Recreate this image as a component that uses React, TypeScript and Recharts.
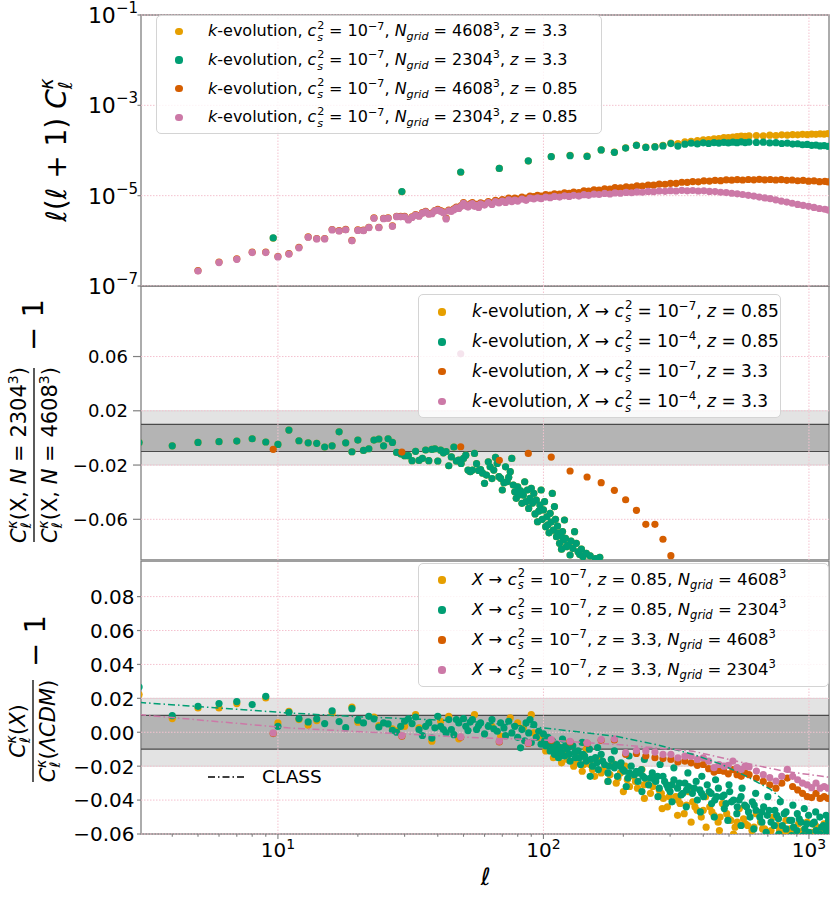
import React from 'react';
import { ComposedChart, Scatter, Line, XAxis, YAxis, ReferenceArea, ReferenceLine, Legend } from 'recharts';

const ORANGE = '#E69F00';
const GREEN = '#009E73';
const VERM = '#D55E00';
const PINK = '#CC79A7';
const SPINE = '#808080';
const GRID = '#f4c2cf';
const FONT = '"DejaVu Sans", Verdana, sans-serif';

const X_DOMAIN: [number, number] = [3.05, 1190];
const xTicks = [4, 5, 6, 7, 8, 9, 10, 20, 30, 40, 50, 60, 70, 80, 90, 100, 200, 300, 400, 500, 600, 700, 800, 900, 1000];
const xMajor = [10, 100, 1000];
const topYTicks = [1e-7, 1e-5, 1e-3, 1e-1];
const midYTicks = [-0.06, -0.02, 0.02, 0.06];
const botYTicks = [-0.06, -0.04, -0.02, 0, 0.02, 0.04, 0.06, 0.08];

// multipole grid of the z = 3.3 maps (coarse bins)
const binEll = [9.6, 29.3, 48.8, 68.2, 87.7, 107, 126, 146, 165, 185, 204, 224, 243, 263, 282, 302, 321, 341, 360, 380, 400,
  419, 439, 458, 478, 497, 517, 536, 556, 575, 595,
  634, 673, 712, 751, 790, 829, 868, 907, 946, 985, 1024, 1063, 1102, 1141, 1180];

// multipoles of the z = 0.85 spectra (top panel)
const topEll = [5, 6, 7, 8, 9, 10, 11, 12, 13, 14, 15, 16, 17, 18, 19, 20, 21, 22, 23, 24, 25, 26, 27, 28, 29, 30,
  31, 32, 33, 34, 35, 36, 37, 38, 39, 40, 41, 42, 43, 44, 45, 46, 47, 48, 49, 50, 51, 52, 53, 54, 55, 56, 57, 58,
  60, 62, 64, 66, 68, 70, 72, 74, 76, 78, 80,
  83, 86, 89, 92, 95, 98,
  102, 106, 110, 115, 120, 125, 130, 136, 142, 148,
  155, 162, 170, 178, 186, 195,
  205, 215, 225, 236, 248, 260, 273, 287,
  301, 316, 332, 348, 365, 383,
  402, 422, 443, 465, 488, 512, 537, 563, 591,
  620, 650, 682, 715, 750, 787, 825, 865, 907, 951, 997,
  1045, 1095, 1148, 1180];

// top panel: l(l+1) C_l^kappa
const topOrange33 = [1.15e-6, 1.22e-5, 3.3e-5, 4.0e-5, 5.85e-5, 7.3e-5, 7.8e-5, 7.5e-5, 1.03e-4, 9.2e-5, 1.14e-4, 1.31e-4, 1.19e-4, 1.22e-4, 1.3e-4, 1.45e-4, 1.42e-4, 1.55e-4, 1.6e-4, 1.66e-4, 1.72e-4,
  1.74e-4, 1.8e-4, 1.83e-4, 1.92e-4, 1.94e-4, 1.98e-4, 2.02e-4, 2.08e-4, 2.07e-4, 2.1e-4,
  2.14e-4, 2.12e-4, 2.18e-4, 2.15e-4, 2.22e-4, 2.19e-4, 2.25e-4, 2.22e-4, 2.28e-4, 2.25e-4, 2.31e-4, 2.28e-4, 2.34e-4, 2.31e-4, 2.36e-4];
const topGreen33 = [1.16e-6, 1.23e-5, 3.34e-5, 4.0e-5, 5.9e-5, 7.3e-5, 7.7e-5, 7.4e-5, 1.03e-4, 9.1e-5, 1.13e-4, 1.3e-4, 1.17e-4, 1.2e-4, 1.26e-4, 1.42e-4, 1.25e-4, 1.38e-4, 1.45e-4, 1.4e-4, 1.48e-4,
  1.43e-4, 1.5e-4, 1.46e-4, 1.52e-4, 1.47e-4, 1.53e-4, 1.49e-4, 1.55e-4, 1.5e-4, 1.54e-4,
  1.51e-4, 1.53e-4, 1.47e-4, 1.49e-4, 1.43e-4, 1.45e-4, 1.39e-4, 1.41e-4, 1.34e-4, 1.36e-4, 1.3e-4, 1.32e-4, 1.26e-4, 1.28e-4, 1.24e-4];
const topVerm085 = [2.2e-7, 3.4e-7, 4.0e-7, 5.6e-7, 5.6e-7, 4.5e-7, 5.2e-7, 7.2e-7, 1.22e-6, 1.12e-6, 1.12e-6, 1.78e-6, 1.68e-6, 1.79e-6, 1.02e-6, 1.74e-6, 1.72e-6, 2.0e-6, 3.22e-6, 2.0e-6, 3.16e-6, 3.22e-6, 2.15e-6, 3.5e-6, 3.47e-6, 3.47e-6,
  3.0e-6, 3.4e-6, 3.8e-6, 3.6e-6, 4.2e-6, 4.5e-6, 4.0e-6, 4.1e-6, 4.7e-6, 5.0e-6, 4.7e-6, 4.4e-6, 3.2e-6, 4.8e-6, 4.7e-6, 5.1e-6, 5.6e-6, 5.4e-6, 6.0e-6, 7.0e-6, 6.2e-6, 5.9e-6, 6.6e-6, 7.0e-6, 6.1e-6, 6.4e-6, 5.8e-6, 6.9e-6,
  6.6e-6, 7.4e-6, 6.9e-6, 7.9e-6, 7.4e-6, 8.2e-6, 7.7e-6, 8.8e-6, 8.1e-6, 8.8e-6, 8.4e-6,
  9.3e-6, 8.8e-6, 9.8e-6, 9.5e-6, 1.01e-5, 9.8e-6,
  1.06e-5, 1.03e-5, 1.1e-5, 1.08e-5, 1.15e-5, 1.13e-5, 1.2e-5, 1.17e-5, 1.28e-5, 1.26e-5,
  1.35e-5, 1.33e-5, 1.42e-5, 1.4e-5, 1.5e-5, 1.49e-5,
  1.56e-5, 1.55e-5, 1.64e-5, 1.63e-5, 1.72e-5, 1.71e-5, 1.8e-5, 1.79e-5,
  1.88e-5, 1.88e-5, 1.98e-5, 1.97e-5, 2.05e-5, 2.03e-5,
  2.12e-5, 2.1e-5, 2.18e-5, 2.15e-5, 2.23e-5, 2.2e-5, 2.26e-5, 2.22e-5, 2.28e-5,
  2.24e-5, 2.29e-5, 2.24e-5, 2.28e-5, 2.22e-5, 2.26e-5, 2.19e-5, 2.22e-5, 2.14e-5, 2.17e-5, 2.09e-5,
  2.12e-5, 2.04e-5, 2.07e-5, 2.02e-5];
const topPink085 = [2.15e-7, 3.3e-7, 3.9e-7, 5.5e-7, 5.5e-7, 4.4e-7, 5.1e-7, 7.0e-7, 1.2e-6, 1.1e-6, 1.1e-6, 1.74e-6, 1.65e-6, 1.75e-6, 1.0e-6, 1.7e-6, 1.68e-6, 1.96e-6, 3.16e-6, 1.96e-6, 3.1e-6, 3.16e-6, 2.1e-6, 3.43e-6, 3.4e-6, 3.4e-6,
  2.9e-6, 3.3e-6, 3.7e-6, 3.5e-6, 4.1e-6, 4.4e-6, 3.9e-6, 4.0e-6, 4.6e-6, 4.8e-6, 4.5e-6, 4.2e-6, 3.05e-6, 4.6e-6, 4.5e-6, 4.9e-6, 5.4e-6, 5.2e-6, 5.8e-6, 6.8e-6, 6.0e-6, 5.6e-6, 6.3e-6, 6.7e-6, 5.8e-6, 6.1e-6, 5.5e-6, 6.6e-6,
  6.2e-6, 7.0e-6, 6.4e-6, 7.4e-6, 6.9e-6, 7.6e-6, 7.1e-6, 8.1e-6, 7.4e-6, 8.0e-6, 7.6e-6,
  8.4e-6, 7.9e-6, 8.8e-6, 8.5e-6, 9.0e-6, 8.6e-6,
  9.3e-6, 9.0e-6, 9.6e-6, 9.3e-6, 9.9e-6, 9.6e-6, 1.02e-5, 9.8e-6, 1.05e-5, 1.02e-5,
  1.08e-5, 1.06e-5, 1.12e-5, 1.09e-5, 1.15e-5, 1.13e-5,
  1.18e-5, 1.16e-5, 1.21e-5, 1.19e-5, 1.24e-5, 1.22e-5, 1.27e-5, 1.25e-5,
  1.29e-5, 1.27e-5, 1.31e-5, 1.28e-5, 1.3e-5, 1.27e-5,
  1.28e-5, 1.24e-5, 1.23e-5, 1.19e-5, 1.17e-5, 1.13e-5, 1.1e-5, 1.06e-5, 1.02e-5,
  9.8e-6, 9.3e-6, 8.9e-6, 8.6e-6, 8.1e-6, 7.6e-6, 7.2e-6, 6.8e-6, 6.4e-6, 6.1e-6, 5.8e-6,
  5.5e-6, 5.2e-6, 5.0e-6, 4.8e-6];

// middle panel: resolution ratio - 1
const midGreen085: number[][] = [
  [3, -0.0033], [4, -0.0058], [5, -0.0033], [6, -0.0028], [7, -0.0023], [8, -0.0006], [9, -0.003], [10, -0.0048], [11, 0.0058], [12, -0.0021],
  [13, -0.0036], [14, -0.004], [15, -0.0067], [16, -0.0058], [17, 0.0045], [18, -0.0036], [19, -0.0102], [20, -0.0016], [21, -0.0092], [22, -0.008],
  [23, -0.0016], [24, -0.0008], [25, -0.0058], [26, -0.0006], [27, -0.0033], [28, -0.0107], [29, -0.0117], [30, -0.0131], [31, -0.0131], [32, -0.0168],
  [33, -0.0099], [34, -0.0166], [35, -0.0151], [36, -0.0089], [37, -0.0168], [38, -0.0085], [39, -0.008], [40, -0.017], [41, -0.009], [42, -0.011],
  [43, -0.01], [44, -0.0205], [45, -0.014], [46, -0.0067], [47, -0.017], [48, -0.0163], [49, -0.0188], [50, -0.0151], [51, -0.0127], [52, -0.0237],
  [53, -0.0249], [54, -0.0237], [55, -0.0114], [56, -0.019], [57, -0.024], [58, -0.0233], [59, -0.026], [60, -0.0335], [61, -0.0274], [62, -0.0176],
  [63, -0.0213], [64, -0.03], [65, -0.0237], [66, -0.0144], [67, -0.0188], [68, -0.0286], [69, -0.0298], [70, -0.0384], [71, -0.033], [72, -0.0213],
  [73, -0.0323], [74, -0.029], [75, -0.0249], [76, -0.0151], [77, -0.0347], [78, -0.0397], [79, -0.0445], [80, -0.036], [81, -0.042], [82, -0.039],
  [83, -0.0482], [84, -0.0421], [85, -0.0323], [86, -0.047], [87, -0.0384], [88, -0.052], [89, -0.0445], [90, -0.0372], [91, -0.048], [92, -0.0409],
  [93, -0.056], [94, -0.0458], [95, -0.0618], [96, -0.054], [97, -0.0495], [98, -0.0384], [99, -0.06], [100, -0.0531], [101, -0.047], [102, -0.0654],
  [103, -0.0581], [104, -0.064], [105, -0.07], [106, -0.0556], [107, -0.062], [108, -0.0409], [109, -0.068], [110, -0.0507], [111, -0.06], [112, -0.0728],
  [113, -0.065], [114, -0.0703], [115, -0.0777], [116, -0.072], [117, -0.082], [118, -0.069], [119, -0.0752], [120, -0.0605], [121, -0.074], [122, -0.0802],
  [124, -0.079], [126, -0.0863], [127, -0.076], [129, -0.0814], [131, -0.0691], [133, -0.0777], [135, -0.0839], [137, -0.086], [139, -0.082], [141, -0.0876],
  [145, -0.0851], [150, -0.087], [157, -0.089], [163, -0.088]];
// c_s^2 = 1e-7 at z = 0.85 lies on top of the 1e-4 points
const midOrange085 = midGreen085;
const midVerm33 = [-0.0084, -0.0104, -0.0065, -0.0165, -0.0114, -0.0141, -0.0244, -0.0288, -0.033, -0.0386, -0.0456, -0.0534, -0.0637, -0.0637, -0.0747, -0.0868];
const midPink33: number[][] = [[48.8, 0.062]];

// bottom panel: ratio to LCDM - 1
const botOrange085: number[][] = [
  [3, 0.0222], [4, 0.0081], [5, 0.0143], [6, 0.0143], [7, 0.0169], [9, 0.0202], [10, 0.0055], [11, 0.0124], [12, 0.0075], [13, 0.0041],
  [14, 0.0069], [16, 0.0114], [19, 0.0149], [20, 0.0059], [23, 0.009], [24, 0.004], [27, 0.002], [28, 0.0008], [30, 0.0035], [33, 0.0104],
  [34, 0.0026], [38, -0.0053], [41, 0.0065], [44, 0.0094], [48, -0.0039], [55, 0.0104], [64, 0.0035], [69, -0.0023], [75, 0.0085], [80, 0.0055],
  [84, 0.0025], [90, 0.0104], [92, -0.0004], [97, -0.0033], [102, -0.011], [105, -0.004], [109, -0.015], [113, -0.008], [117, -0.018], [121, -0.012],
  [125, -0.006], [130, -0.02], [135, -0.014], [140, -0.023], [145, -0.01], [150, -0.019], [156, -0.026], [162, -0.016], [168, -0.022], [175, -0.029],
  [182, -0.018], [188, -0.03], [195, -0.024], [203, -0.02], [211, -0.032], [219, -0.026], [226, -0.033], [235, -0.022], [244, -0.03], [253, -0.036],
  [263, -0.027], [273, -0.034], [283, -0.039], [293, -0.044], [304, -0.031], [315, -0.038], [327, -0.042], [339, -0.048], [352, -0.035], [365, -0.041],
  [379, -0.046], [393, -0.05], [408, -0.038], [423, -0.044], [439, -0.049], [455, -0.053], [472, -0.042], [490, -0.048], [508, -0.052], [527, -0.056],
  [547, -0.045], [567, -0.051], [588, -0.055], [610, -0.058], [633, -0.048], [657, -0.053], [681, -0.057], [707, -0.06], [733, -0.05], [761, -0.055],
  [789, -0.059], [819, -0.052], [849, -0.057], [881, -0.06], [914, -0.054], [948, -0.058], [984, -0.053], [1021, -0.059], [1059, -0.055], [1099, -0.059],
  [1140, -0.054], [1183, -0.058],
  [107, -0.009], [115, -0.013], [123, -0.016], [132, -0.017], [142, -0.019], [153, -0.022], [165, -0.024], [178, -0.025], [191, -0.027], [207, -0.028],
  [222, -0.029], [239, -0.031], [258, -0.032], [278, -0.036], [298, -0.038], [321, -0.04], [346, -0.043], [372, -0.044], [400, -0.046], [431, -0.047],
  [463, -0.05], [499, -0.051], [537, -0.053], [577, -0.054], [621, -0.056], [669, -0.057], [720, -0.058], [775, -0.058], [834, -0.059], [897, -0.059],
  [200, -0.035], [240, -0.039], [280, -0.045], [320, -0.049], [360, -0.053], [410, -0.056], [460, -0.058], [520, -0.06]];
const botGreen085: number[][] = [
  [3, 0.0267], [4, 0.0098], [5, 0.0153], [6, 0.0169], [7, 0.0181], [8, 0.0163], [9, 0.0212], [10, 0.0035], [11, 0.0118], [12, 0.0081],
  [13, 0.0061], [14, 0.0079], [15, 0.0051], [16, 0.0127], [17, 0.0063], [18, 0.0027], [19, 0.0139], [20, 0.0071], [21, 0.0055], [22, 0.0094],
  [23, 0.0079], [24, 0.0031], [25, 0.0055], [26, 0.0049], [27, 0.0012], [28, 0.0], [29, 0.0035], [30, 0.0065], [31, 0.0079], [32, 0.0051],
  [33, 0.009], [34, 0.0016], [35, -0.0019], [36, 0.0035], [37, 0.0055], [38, -0.0034], [39, 0.0026], [40, 0.0094], [41, 0.0035], [42, 0.0016],
  [43, -0.0004], [44, 0.0075], [45, 0.0016], [46, -0.0014], [47, 0.0075], [48, 0.0055], [50, 0.008], [51, 0.0035], [52, 0.001], [53, 0.006],
  [54, 0.0075], [56, 0.0017], [57, 0.004], [58, 0.0055], [60, -0.001], [62, 0.0035], [64, 0.0075], [65, 0.002], [67, 0.0006], [69, 0.0055],
  [71, 0.0025], [72, -0.002], [74, 0.0065], [76, -0.0004], [78, 0.0035], [80, -0.003], [82, -0.0092], [83, 0.0016], [85, -0.005], [86, 0.0055],
  [88, -0.0004], [89, 0.0075], [90, -0.006], [92, 0.0045], [94, -0.003], [96, 0.0006], [98, -0.007], [100, -0.001], [102, -0.008], [104, -0.003],
  [106, -0.011], [108, -0.005], [110, -0.013], [112, -0.007], [114, -0.015], [116, -0.009], [118, -0.004], [120, -0.014], [123, -0.01], [126, -0.017],
  [129, -0.008], [132, -0.015], [135, -0.011], [138, -0.019], [141, -0.013], [145, -0.017], [149, -0.01], [153, -0.02], [157, -0.015], [161, -0.022],
  [165, -0.013], [170, -0.019], [175, -0.024], [180, -0.016], [185, -0.021], [190, -0.026], [196, -0.018], [202, -0.023], [208, -0.027], [214, -0.02],
  [220, -0.025], [227, -0.029], [234, -0.022], [241, -0.027], [249, -0.031], [257, -0.024], [265, -0.029], [273, -0.033], [282, -0.026], [291, -0.031],
  [300, -0.035], [310, -0.028], [320, -0.033], [330, -0.037], [341, -0.03], [352, -0.032], [364, -0.036], [376, -0.029], [388, -0.034], [401, -0.038],
  [414, -0.031], [428, -0.036], [442, -0.04], [456, -0.033], [471, -0.038], [487, -0.042], [503, -0.035], [520, -0.04], [537, -0.044], [555, -0.038],
  [573, -0.043], [592, -0.047], [612, -0.041], [632, -0.046], [653, -0.05], [675, -0.044], [697, -0.049], [720, -0.053], [744, -0.046], [768, -0.051],
  [794, -0.055], [820, -0.047], [847, -0.052], [875, -0.056], [904, -0.048], [934, -0.053], [965, -0.057], [997, -0.049], [1030, -0.054], [1064, -0.058],
  [1099, -0.05], [1135, -0.055], [1172, -0.059], [1185, -0.052],
  [101, -0.005], [105, -0.007], [109, -0.009], [113, -0.011], [117, -0.012], [121, -0.008], [125, -0.013], [131, -0.012], [137, -0.015], [143, -0.014],
  [151, -0.016], [159, -0.018], [167, -0.017], [177, -0.02], [187, -0.019], [199, -0.022], [211, -0.024], [224, -0.023], [237, -0.026], [253, -0.027],
  [269, -0.026], [286, -0.029], [305, -0.031], [325, -0.03], [346, -0.034], [370, -0.033], [394, -0.036], [421, -0.035], [449, -0.038], [479, -0.037],
  [511, -0.041], [546, -0.04], [582, -0.044], [622, -0.043], [664, -0.047], [708, -0.046], [756, -0.049], [807, -0.048], [861, -0.052], [919, -0.051],
  [981, -0.054], [1047, -0.053], [1117, -0.056], [1180, -0.055],
  [140, -0.006], [160, -0.009], [185, -0.011], [210, -0.014], [240, -0.016], [275, -0.019], [310, -0.021], [350, -0.024], [395, -0.026], [445, -0.028],
  [500, -0.031], [560, -0.033], [630, -0.036], [700, -0.038], [780, -0.041], [870, -0.043], [960, -0.045], [1060, -0.047], [1160, -0.049],
  [150, -0.026], [175, -0.029], [205, -0.032], [235, -0.035], [270, -0.038], [305, -0.041], [345, -0.044], [390, -0.047], [440, -0.05], [495, -0.052],
  [555, -0.055], [620, -0.057], [690, -0.059], [770, -0.06], [860, -0.061], [950, -0.061], [1050, -0.062],
  [195, -0.02], [230, -0.024], [262, -0.028], [295, -0.033], [335, -0.036], [380, -0.04], [430, -0.042], [480, -0.045], [535, -0.048], [600, -0.05],
  [665, -0.053], [740, -0.055], [820, -0.057], [900, -0.058], [1000, -0.059], [1100, -0.06], [1160, -0.058]];
const botVerm33 = [-0.0008, -0.0023, -0.003, -0.0057, -0.0066, -0.0047, -0.0057, -0.0066, -0.0047, -0.0045, -0.013, -0.0125, -0.014, -0.015, -0.0155, -0.016, -0.0175, -0.017, -0.018, -0.0195, -0.019,
  -0.0215, -0.0235, -0.0225, -0.023, -0.0245, -0.022, -0.025, -0.026, -0.024, -0.025,
  -0.027, -0.029, -0.031, -0.033, -0.03, -0.027, -0.032, -0.034, -0.036, -0.038, -0.0385, -0.036, -0.039, -0.038, -0.039];
const botPink33 = [-0.0004, -0.0019, -0.0027, -0.0053, -0.0063, -0.0043, -0.0053, -0.0063, -0.0043, -0.0039, -0.012, -0.0108, -0.011, -0.0117, -0.0131, -0.0131, -0.0151, -0.0141, -0.0141, -0.016, -0.0151,
  -0.017, -0.0209, -0.019, -0.02, -0.0195, -0.017, -0.0209, -0.0219, -0.02, -0.0205,
  -0.0229, -0.025, -0.0268, -0.0288, -0.026, -0.0219, -0.026, -0.028, -0.03, -0.031, -0.0327, -0.03, -0.033, -0.032, -0.033];
const classGreen: number[][] = [[3, 0.0176], [5, 0.0152], [10.9, 0.0114], [20, 0.0092], [52, 0.0065], [100, 0.0026], [188, -0.0024], [270, -0.0075],
  [367, -0.0131], [470, -0.019], [580, -0.0259], [717, -0.0337], [800, -0.04]];
const classPink: number[][] = [[3, 0.0104], [10.9, 0.0026], [52, -0.003], [100, -0.0045], [200, -0.0075], [366, -0.0112], [535, -0.0171],
  [700, -0.021], [810, -0.023], [1190, -0.0265]];

// legend labels
const topLegendRows = [
  { color: ORANGE, n: '4608', z: '3.3' },
  { color: GREEN, n: '2304', z: '3.3' },
  { color: VERM, n: '4608', z: '0.85' },
  { color: PINK, n: '2304', z: '0.85' },
];
const midLegendRows = [
  { color: ORANGE, cs: '7', z: '0.85' },
  { color: GREEN, cs: '4', z: '0.85' },
  { color: VERM, cs: '7', z: '3.3' },
  { color: PINK, cs: '4', z: '3.3' },
];
const botLegendRows = [
  { color: ORANGE, z: '0.85', n: '4608' },
  { color: GREEN, z: '0.85', n: '2304' },
  { color: VERM, z: '3.3', n: '4608' },
  { color: PINK, z: '3.3', n: '2304' },
];

const zip = (ell: number[], vals: number[]) => vals.map((v, i) => ({ ell: ell[i], v }));
const pairs = (p: number[][]) => p.map(([ell, v]) => ({ ell, v }));

const Dot = (p: any) => <circle cx={p.cx} cy={p.cy} r={3.6} fill={p.fill} />;

const LogYTick = (p: any) => {
  const exp = Math.round(Math.log10(p.payload.value));
  return (
    <g>
      <line x1={p.x - 3.5} x2={p.x} y1={p.y} y2={p.y} stroke={SPINE} strokeWidth={1.2} />
      <text x={p.x - 3} y={p.y + 8} textAnchor="end" fontSize={22} fill="#000">
        10<tspan fontSize={15} dy={-10}>{'\u2212' + Math.abs(exp)}</tspan>
      </text>
    </g>
  );
};

const fmt = (v: number) => (v < 0 ? '\u2212' : '') + Math.abs(v).toFixed(2);
const makeLinTick = (fontSize: number, len: number, gap: number) => (p: any) => (
  <g>
    <line x1={p.x - len} x2={p.x} y1={p.y} y2={p.y} stroke={SPINE} strokeWidth={1.2} />
    <text x={p.x - len - gap} y={p.y + fontSize * 0.37} textAnchor="end" fontSize={fontSize} fill="#000">
      {fmt(p.payload.value)}
    </text>
  </g>
);
const MidTick = makeLinTick(18, 8, 5);
const BotTick = makeLinTick(20, 4, 2.5);

const XTick = (p: any) => {
  const v = p.payload.value;
  const major = xMajor.includes(v);
  return (
    <g>
      <line x1={p.x} x2={p.x} y1={p.y} y2={p.y + (major ? 5 : 2.8)} stroke={SPINE} strokeWidth={1.1} />
      {major && (
        <text x={p.x} y={p.y + 23} textAnchor="middle" fontSize={20} fill="#000">
          10<tspan fontSize={14} dy={-8}>{Math.round(Math.log10(v))}</tspan>
        </text>
      )}
    </g>
  );
};

const Ckappa = ({ size }: { size: number }) => (
  <>
    <tspan fontStyle="italic">C</tspan>
    <tspan fontSize={size * 0.68} dy={size * 0.25} fontStyle="italic">{'\u2113'}</tspan>
    <tspan fontSize={size * 0.68} dx={-size * 0.3} dy={-size * 0.68} fontStyle="italic">{'\u03BA'}</tspan>
    <tspan dy={size * 0.43}>(</tspan>
  </>
);

const TopYLabel = () => (
  <g transform="translate(66,150) rotate(-90)">
    <text x={0} y={0} textAnchor="middle" fontSize={28} fill="#000">
      <tspan fontStyle="italic">{'\u2113'}</tspan>
      <tspan>(</tspan>
      <tspan fontStyle="italic">{'\u2113'}</tspan>
      <tspan>{' + 1) '}</tspan>
      <tspan fontStyle="italic">C</tspan>
      <tspan fontSize={19} dy={6} fontStyle="italic">{'\u2113'}</tspan>
      <tspan fontSize={19} dx={-8} dy={-19} fontStyle="italic">{'\u03BA'}</tspan>
    </text>
  </g>
);

const MidYLabel = () => (
  <g transform="translate(34,169) rotate(-90)">
    <text x={0} y={-8} textAnchor="middle" fontSize={21} fill="#000">
      <Ckappa size={21} />
      <tspan>X, </tspan>
      <tspan fontStyle="italic">N</tspan>
      <tspan>{' = 2304'}</tspan>
      <tspan fontSize={14} dy={-8}>3</tspan>
      <tspan dy={8}>)</tspan>
    </text>
    <line x1={-87} x2={87} y1={0} y2={0} stroke="#000" strokeWidth={1.3} />
    <text x={0} y={23} textAnchor="middle" fontSize={21} fill="#000">
      <Ckappa size={21} />
      <tspan>X, </tspan>
      <tspan fontStyle="italic">N</tspan>
      <tspan>{' = 4608'}</tspan>
      <tspan fontSize={14} dy={-8}>3</tspan>
      <tspan dy={8}>)</tspan>
    </text>
    <text x={130} y={9} textAnchor="middle" fontSize={29} fill="#000">{'\u2212 1'}</text>
  </g>
);

const BotYLabel = () => (
  <g transform="translate(33,171) rotate(-90)">
    <text x={0} y={-8} textAnchor="middle" fontSize={21} fill="#000">
      <Ckappa size={21} />
      <tspan fontStyle="italic">X</tspan>
      <tspan>)</tspan>
    </text>
    <line x1={-51} x2={51} y1={0} y2={0} stroke="#000" strokeWidth={1.3} />
    <text x={0} y={22} textAnchor="middle" fontSize={21} fill="#000">
      <Ckappa size={21} />
      <tspan fontStyle="italic">{'\u039BCDM'}</tspan>
      <tspan>)</tspan>
    </text>
    <text x={90} y={12} textAnchor="middle" fontSize={29} fill="#000">{'\u2212 1'}</text>
  </g>
);

const XLabel = () => (
  <text x={485.6} y={325} textAnchor="middle" fontSize={24} fontStyle="italic" fill="#000">{'\u2113'}</text>
);

// html math helpers for the legends
const Sup = ({ children, fs }: { children: React.ReactNode; fs: number }) => (
  <span style={{ fontSize: fs * 0.7, position: 'relative', top: -fs * 0.42 }}>{children}</span>
);
const Sub = ({ children, fs }: { children: React.ReactNode; fs: number }) => (
  <span style={{ fontSize: fs * 0.7, position: 'relative', top: fs * 0.25, fontStyle: 'italic' }}>{children}</span>
);
const Cs2 = ({ fs }: { fs: number }) => (
  <>
    <i>c</i>
    <span style={{ position: 'relative', display: 'inline-block', width: fs * 0.48, height: 0 }}>
      <span style={{ position: 'absolute', left: 1, bottom: fs * 0.33, fontSize: fs * 0.7, lineHeight: 1 }}>2</span>
      <span style={{ position: 'absolute', left: 1, top: -fs * 0.27, fontSize: fs * 0.7, lineHeight: 1, fontStyle: 'italic' }}>s</span>
    </span>
  </>
);

const LegendBox = ({ left, top, width, height, rows, dotX, textX, fs }: any) => (
  <div style={{
    position: 'absolute', left, top, width, height, boxSizing: 'border-box',
    border: '1px solid #d4d4d4', borderRadius: 5, background: 'rgba(255,255,255,0.8)', fontFamily: FONT, color: '#000',
  }}>
    {rows.map((r: any, i: number) => (
      <div key={i} style={{ position: 'absolute', left: 0, top: r.y, width: '100%', height: 0 }}>
        <span style={{ position: 'absolute', left: dotX - 3.6, top: -3.6, width: 7.2, height: 7.2, borderRadius: '50%', background: r.color }} />
        <span style={{ position: 'absolute', left: textX, top: -fs * 0.62, whiteSpace: 'nowrap', fontSize: fs, lineHeight: `${fs * 1.2}px` }}>
          {r.label}
        </span>
      </div>
    ))}
  </div>
);

const TopLegend = () => {
  const fs = 16;
  const ys = [15.3, 44, 72.7, 101.4];
  const rows = topLegendRows.map((r, i) => ({
    color: r.color,
    y: ys[i],
    label: (
      <>
        <i>k</i>-evolution, <Cs2 fs={fs} /> = 10<Sup fs={fs}>{'\u22127'}</Sup>, <i>N</i><Sub fs={fs}>grid</Sub> = {r.n}<Sup fs={fs}>3</Sup>, <i>z</i> = {r.z}
      </>
    ),
  }));
  return <LegendBox left={156} top={15} width={446} height={119} rows={rows} dotX={22} textX={51} fs={fs} />;
};

const MidLegend = () => {
  const fs = 17;
  const ys = [17, 47, 76.7, 106.7];
  const rows = midLegendRows.map((r, i) => ({
    color: r.color,
    y: ys[i],
    label: (
      <>
        <i>k</i>-evolution, <i>X</i> {'\u2192'} <Cs2 fs={fs} /> = 10<Sup fs={fs}>{'\u2212' + r.cs}</Sup>, <i>z</i> = {r.z}
      </>
    ),
  }));
  return <LegendBox left={418} top={8} width={363} height={124} rows={rows} dotX={23} textX={53} fs={fs} />;
};

const BotLegend = () => {
  const fs = 16.5;
  const ys = [16, 46, 76, 106];
  const rows = botLegendRows.map((r, i) => ({
    color: r.color,
    y: ys[i],
    label: (
      <>
        <i>X</i> {'\u2192'} <Cs2 fs={fs} /> = 10<Sup fs={fs}>{'\u22127'}</Sup>, <i>z</i> = {r.z}, <i>N</i><Sub fs={fs}>grid</Sub> = {r.n}<Sup fs={fs}>3</Sup>
      </>
    ),
  }));
  return (
    <>
      <LegendBox left={418} top={3} width={411} height={124} rows={rows} dotX={23} textX={53} fs={fs} />
      <svg style={{ position: 'absolute', left: 200, top: 205, overflow: 'visible' }} width={60} height={24}>
        <line x1={8} x2={46} y1={12} y2={12} stroke="#000" strokeWidth={1.5} strokeDasharray="7 3 1.5 3" />
      </svg>
      <span style={{ position: 'absolute', left: 262, top: 205, fontSize: 18.5, lineHeight: '24px', fontFamily: FONT, color: '#000' }}>CLASS</span>
    </>
  );
};

const legendWrap = (h: number) => ({ left: 0, top: 0, width: 831, height: h, pointerEvents: 'none' as const });

const Frame = ({ y1, y2 }: { y1: number; y2: number }) => (
  <ReferenceArea x1={X_DOMAIN[0]} x2={X_DOMAIN[1]} y1={y1} y2={y2} fill="none" stroke={SPINE} strokeWidth={1.3} fillOpacity={0} />
);

const vGrid = xMajor.map((x) => <ReferenceLine key={`vg${x}`} x={x} stroke={GRID} strokeWidth={1} strokeDasharray="1.5 1.5" />);

export default function App() {
  const MID_Y: [number, number] = [-0.09, 0.112];
  const BOT_Y: [number, number] = [-0.06, 0.101];
  return (
    <div style={{ position: 'absolute', left: 0, top: 0, width: 831, height: 897, background: '#fff', fontFamily: FONT }}>
      {/* top panel */}
      <div style={{ position: 'absolute', left: 0, top: 0 }}>
        <ComposedChart width={831} height={302} margin={{ top: 15, right: 2, bottom: 16, left: 0 }}>
          <XAxis type="number" dataKey="ell" scale="log" domain={X_DOMAIN} allowDataOverflow ticks={xTicks} hide />
          <YAxis type="number" dataKey="v" scale="log" domain={[1e-7, 1e-1]} allowDataOverflow ticks={topYTicks} interval={0}
            width={141} tickSize={0} tickMargin={0} axisLine={false} tickLine={false} tick={LogYTick} label={<TopYLabel />} />
          {vGrid}
          {topYTicks.map((y) => <ReferenceLine key={`hg${y}`} y={y} stroke={GRID} strokeWidth={1} strokeDasharray="1.5 1.5" />)}
          <Scatter data={zip(binEll, topOrange33)} dataKey="v" fill={ORANGE} shape={Dot} isAnimationActive={false} />
          <Scatter data={zip(binEll, topGreen33)} dataKey="v" fill={GREEN} shape={Dot} isAnimationActive={false} />
          <Scatter data={zip(topEll, topVerm085)} dataKey="v" fill={VERM} shape={Dot} isAnimationActive={false} />
          <Scatter data={zip(topEll, topPink085)} dataKey="v" fill={PINK} shape={Dot} isAnimationActive={false} />
          {Frame({ y1: 1e-7, y2: 1e-1 })}
          <Legend content={() => <TopLegend />} wrapperStyle={legendWrap(286)} layout="horizontal" verticalAlign="middle" align="center" />
        </ComposedChart>
      </div>

      {/* middle panel */}
      <div style={{ position: 'absolute', left: 0, top: 286 }}>
        <ComposedChart width={831} height={274} margin={{ top: 0, right: 2, bottom: 0, left: 0 }}>
          <XAxis type="number" dataKey="ell" scale="log" domain={X_DOMAIN} allowDataOverflow ticks={xTicks} hide />
          <YAxis type="number" dataKey="v" domain={MID_Y} allowDataOverflow ticks={midYTicks} interval={0}
            width={141} tickSize={0} tickMargin={0} axisLine={false} tickLine={false} tick={MidTick} label={<MidYLabel />} />
          <ReferenceArea y1={-0.02} y2={0.02} fill="#e3e3e3" fillOpacity={1} stroke="#cfcfcf" strokeWidth={0.8} />
          <ReferenceArea y1={-0.01} y2={0.01} fill="#b4b4b4" fillOpacity={1} />
          <ReferenceLine y={0.01} stroke="#4a4a4a" strokeWidth={1.2} />
          <ReferenceLine y={-0.01} stroke="#4a4a4a" strokeWidth={1.2} />
          {vGrid}
          {midYTicks.map((y) => <ReferenceLine key={`hg${y}`} y={y} stroke={GRID} strokeWidth={1} strokeDasharray="1.5 1.5" />)}
          <Scatter data={pairs(midOrange085)} dataKey="v" fill={ORANGE} shape={Dot} isAnimationActive={false} />
          <Scatter data={pairs(midGreen085)} dataKey="v" fill={GREEN} shape={Dot} isAnimationActive={false} />
          <Scatter data={zip(binEll, midVerm33)} dataKey="v" fill={VERM} shape={Dot} isAnimationActive={false} />
          <Scatter data={pairs(midPink33)} dataKey="v" fill={PINK} shape={Dot} isAnimationActive={false} />
          {Frame({ y1: MID_Y[0], y2: MID_Y[1] })}
          <Legend content={() => <MidLegend />} wrapperStyle={legendWrap(274)} layout="horizontal" verticalAlign="middle" align="center" />
        </ComposedChart>
      </div>

      {/* bottom panel */}
      <div style={{ position: 'absolute', left: 0, top: 560 }}>
        <ComposedChart width={831} height={337} margin={{ top: 1, right: 2, bottom: 0, left: 0 }}>
          <XAxis type="number" dataKey="ell" scale="log" domain={X_DOMAIN} allowDataOverflow ticks={xTicks} interval={0}
            height={63} tickSize={0} tickMargin={0} axisLine={false} tickLine={false} tick={XTick} label={<XLabel />} />
          <YAxis type="number" dataKey="v" domain={BOT_Y} allowDataOverflow ticks={botYTicks} interval={0}
            width={141} tickSize={0} tickMargin={0} axisLine={false} tickLine={false} tick={BotTick} label={<BotYLabel />} />
          <ReferenceArea y1={-0.02} y2={0.02} fill="#e3e3e3" fillOpacity={1} stroke="#cfcfcf" strokeWidth={0.8} />
          <ReferenceArea y1={-0.01} y2={0.01} fill="#b4b4b4" fillOpacity={1} />
          <ReferenceLine y={0.01} stroke="#4a4a4a" strokeWidth={1.2} />
          <ReferenceLine y={-0.01} stroke="#4a4a4a" strokeWidth={1.2} />
          {vGrid}
          {botYTicks.map((y) => <ReferenceLine key={`hg${y}`} y={y} stroke={GRID} strokeWidth={1} strokeDasharray="1.5 1.5" />)}
          <Scatter data={pairs(botOrange085)} dataKey="v" fill={ORANGE} shape={Dot} isAnimationActive={false} />
          <Scatter data={pairs(botGreen085)} dataKey="v" fill={GREEN} shape={Dot} isAnimationActive={false} />
          <Scatter data={zip(binEll, botVerm33)} dataKey="v" fill={VERM} shape={Dot} isAnimationActive={false} />
          <Scatter data={zip(binEll, botPink33)} dataKey="v" fill={PINK} shape={Dot} isAnimationActive={false} />
          <Line data={pairs(classGreen)} dataKey="v" type="linear" stroke={GREEN} strokeWidth={1.5} strokeDasharray="7 3 1.5 3" dot={false} activeDot={false} isAnimationActive={false} zIndex={700} />
          <Line data={pairs(classPink)} dataKey="v" type="linear" stroke={PINK} strokeWidth={1.5} strokeDasharray="7 3 1.5 3" dot={false} activeDot={false} isAnimationActive={false} zIndex={700} />
          {Frame({ y1: BOT_Y[0], y2: BOT_Y[1] })}
          <Legend content={() => <BotLegend />} wrapperStyle={legendWrap(337)} layout="horizontal" verticalAlign="middle" align="center" />
        </ComposedChart>
      </div>
    </div>
  );
}
